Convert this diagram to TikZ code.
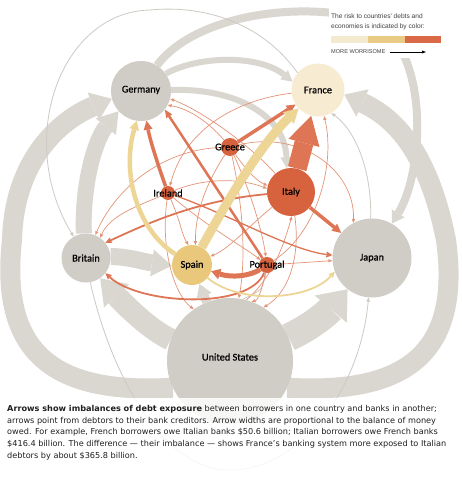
\documentclass[tikz,border=0pt]{standalone}
\usepackage{fontspec}
\setmainfont{DejaVu Sans}
\newfontfamily\lblfont[FakeBold=0.7]{Carlito}
\newfontfamily\legfont{Liberation Sans}
\usetikzlibrary{arrows.meta}
\pgfdeclarelayer{back}
\pgfdeclarelayer{mid}
\pgfsetlayers{back,mid,main}
\definecolor{nodegray}{HTML}{D0CDC6}
\definecolor{arrgray}{HTML}{DAD7D0}
\definecolor{thingray}{HTML}{CDCAC3}
\definecolor{cream}{HTML}{F7ECD2}
\definecolor{sand}{HTML}{E9C87C}
\definecolor{sandarr}{HTML}{EDD596}
\definecolor{rust}{HTML}{D6623E}
\definecolor{rustarr}{HTML}{DE7656}
\definecolor{thinrust}{HTML}{E39478}
\definecolor{legA}{HTML}{F4EAD0}
\definecolor{legB}{HTML}{E9CB86}
\definecolor{legC}{HTML}{DA6A47}
\begin{document}
\begin{tikzpicture}[x=1pt,y=-1pt,
  country/.style={circle, draw=none, inner sep=0pt, minimum size=#1},
  lbl/.style={font=\lblfont\fontsize{10.3}{12}\selectfont, text=black, inner sep=0pt},
  fat/.style n args={3}{line width=#1,-{Triangle[width=#2,length=#3,line width=0pt]}},
  thinarr/.style={draw=thinrust, line width=0.7pt, -{Triangle[width=3.4pt,length=4pt,line width=0pt]}},
  grayline/.style={draw=thingray, line width=0.8pt, -{Triangle[width=3.6pt,length=4.2pt,line width=0pt]}},
  midarr/.style={line width=#1, -{Triangle[width=6pt,length=6pt,line width=0pt]}}
]
\useasboundingbox (0,0) rectangle (461,484);

% countries
\node[country=60, fill=nodegray] (ger) at (141,91) {};
\node[country=53, fill=cream] (fra) at (318,90) {};
\node[country=18, fill=rust] (gre) at (230,147) {};
\node[country=14, fill=rust] (ire) at (168,193) {};
\node[country=48, fill=rust] (ita) at (291,192) {};
\node[country=49, fill=nodegray] (bri) at (86,258) {};
\node[country=40, fill=sand] (spa) at (192,265) {};
\node[country=16, fill=rust] (por) at (267,265) {};
\node[country=79, fill=nodegray] (jap) at (372,258) {};
\node[country=126, fill=nodegray] (us) at (230,361) {};

\node[lbl] (gerl) at (141,90) {Germany};
\node[lbl] (fral) at (318,90) {France};
\node[lbl] (grel) at (230,147) {Greece};
\node[lbl] (irel) at (168,193) {Ireland};
\node[lbl] (ital) at (291,192) {Italy};
\node[lbl] (bril) at (86,258) {Britain};
\node[lbl] (spal) at (192,265) {Spain};
\node[lbl] (porl) at (267,265) {Portugal};
\node[lbl] (japl) at (372,258) {Japan};
\node[lbl] (usl) at (230,357) {United States};

\begin{pgfonlayer}{back}
\fill[white] (0,0) rectangle (461,484);
% big gray arrows
\draw[arrgray, fat={20pt}{30pt}{20pt}] (us.205) .. controls (50,395) and (0,350) .. (12,240) .. controls (14,160) and (60,120) .. (ger.195);
\draw[arrgray, fat={20pt}{30pt}{20pt}] (us.335) .. controls (410,395) and (461,350) .. (446,240) .. controls (430,160) and (400,120) .. (fra.350);
\draw[arrgray, fat={16pt}{26pt}{20pt}] (bri.95) .. controls (82,185) and (95,140) .. (ger.222);
\draw[arrgray, fat={6pt}{12pt}{11pt}] (ger.35) .. controls (200,55) and (260,55) .. (fra.162);
\draw[arrgray, fat={8pt}{15pt}{12pt}] (ger.58) .. controls (195,15) and (300,0) .. (370,20) .. controls (430,45) and (425,170) .. (jap.60);
\draw[arrgray, fat={6pt}{12pt}{11pt}] (ger.2) .. controls (235,88) and (285,115) .. (ita.100);
\draw[arrgray, fat={17pt}{27pt}{20pt}] (bri.3) .. controls (125,256) and (145,262) .. (spa.182);
\draw[arrgray, fat={22pt}{34pt}{24pt}] (us.160) .. controls (150,330) and (125,305) .. (bri.305);
\draw[arrgray, fat={28pt}{42pt}{26pt}] (us.22) .. controls (315,325) and (330,310) .. (jap.232);
\draw[arrgray, fat={9pt}{16pt}{13pt}] (us) -- (spa);
% thin gray
\draw[grayline] (fra.140) .. controls (260,20) and (200,5) .. (150,10) .. controls (60,12) and (15,140) .. (bri.120);
\draw[grayline] (bri.280) .. controls (110,370) and (160,470) .. (230,470) .. controls (300,470) and (360,390) .. (jap.265);
\draw[grayline] (jap.92) .. controls (372,170) and (355,130) .. (fra.300);
\draw[grayline] (us.78) .. controls (262,290) .. (por);
\end{pgfonlayer}

\begin{pgfonlayer}{mid}
% thin colored lines
\draw[thinarr] (gre) .. controls (160,150) and (115,190) .. (bri.68);
\draw[thinarr] (ire) .. controls (140,205) and (110,215) .. (bri.55);
\draw[thinarr] (fra) .. controls (235,100) and (185,130) .. (ire);
\draw[thinarr] (gre) .. controls (205,185) and (195,215) .. (spa.80);
\draw[thinarr] (ita) .. controls (250,225) and (230,248) .. (spa.25);
\draw[thinarr] (gre) .. controls (245,215) and (245,265) .. (us.82);
\draw[thinarr] (ire) .. controls (160,250) and (175,295) .. (us.125);
\draw[thinarr] (ita) .. controls (300,250) and (292,290) .. (us.58);
\draw[thinarr] (por) -- (jap);
\draw[thinarr] (por) .. controls (320,230) and (335,160) .. (fra.283);
\draw[thinarr] (gre) .. controls (300,130) and (355,170) .. (jap.118);
\draw[thinarr] (gre) .. controls (245,168) and (255,180) .. (ita.165);
\draw[thinarr] (ire) .. controls (205,178) and (240,178) .. (ita.172);
\draw[thinarr] (ire) .. controls (205,225) and (245,248) .. (por);
\draw[thinarr] (gre) .. controls (250,190) and (262,230) .. (por);
\draw[thinarr] (us.75) .. controls (275,275) and (285,240) .. (ita.272);
\draw[thinarr] (ire) .. controls (180,220) and (182,235) .. (spa.100);
\draw[thinarr] (por) .. controls (262,290) and (258,300) .. (us.70);
\draw[thinarr] (gre) .. controls (205,118) and (185,108) .. (ger.332);
\draw[thinarr] (ita) .. controls (255,150) and (205,112) .. (ger.345);
% medium colored arrows
\draw[rustarr, midarr=1.3pt] (ire) .. controls (230,215) and (290,250) .. (jap.176);
\draw[rustarr, midarr=1.8pt] (ita) .. controls (200,200) and (150,222) .. (bri.38);
\draw[rustarr, midarr=1.8pt] (por) .. controls (250,310) and (140,305) .. (bri.322);
\draw[sandarr, midarr=1.8pt] (spa) .. controls (240,305) and (310,300) .. (jap.200);
\draw[sandarr, fat={4.5pt}{10pt}{9pt}] (spa) .. controls (135,228) and (122,170) .. (ger.262);
\draw[rustarr, fat={3.5pt}{9pt}{9pt}] (ire) .. controls (158,165) and (150,140) .. (ger);
\draw[rustarr, fat={2.5pt}{7pt}{8pt}] (por) -- (ger.322);
\draw[rustarr, fat={3.5pt}{9pt}{9pt}] (gre) -- (fra);
\draw[rustarr, fat={3.5pt}{9pt}{9pt}] (ita) -- (jap);
\draw[rustarr, fat={5pt}{11pt}{9pt}] (por) .. controls (250,276) and (232,278) .. (spa);
\draw[sandarr, fat={9pt}{16pt}{14pt}] (spa) .. controls (225,205) and (260,145) .. (fra);
\draw[rustarr, fat={19pt}{32pt}{28pt}] (ita) -- (fra);
\end{pgfonlayer}

% legend
\fill[white] (329,6) rectangle (447,58);
\node[anchor=north west, inner sep=0pt, align=left, text=black!75, font=\legfont\fontsize{6.6}{9.2}\selectfont] (legtext) at (331,14) {The risk to countries' debts and\\economies is indicated by color:};
\fill[legA] (331,36) rectangle (368,43);
\fill[legB] (368,36) rectangle (405,43);
\fill[legC] (405,36) rectangle (441,43);
\node[anchor=west, inner sep=0pt, text=black!75, font=\legfont\fontsize{5.6}{6}\selectfont] (legmore) at (331,52) {MORE WORRISOME};
\coordinate (legarrend) at (426,52);
\draw[black, line width=0.6pt, -{Triangle[width=3pt,length=4pt,line width=0pt]}] (legmore.east) ++(4,0) coordinate (legarrstart) -- (legarrend);

% caption
\fill[white, opacity=0.85] (0,398) rectangle (461,484);
\node[anchor=north west, inner sep=0pt, align=left, text=black!88, font=\fontsize{8.15}{11.7}\selectfont] (caption) at (7,405) {\textbf{Arrows show imbalances of debt exposure} between borrowers in one country and banks in another;\\arrows point from debtors to their bank creditors. Arrow widths are proportional to the balance of money\\owed. For example, French borrowers owe Italian banks \$50.6 billion; Italian borrowers owe French banks\\\$416.4 billion. The difference --- their imbalance --- shows France's banking system more exposed to Italian\\debtors by about \$365.8 billion.};
\end{tikzpicture}
\end{document}
